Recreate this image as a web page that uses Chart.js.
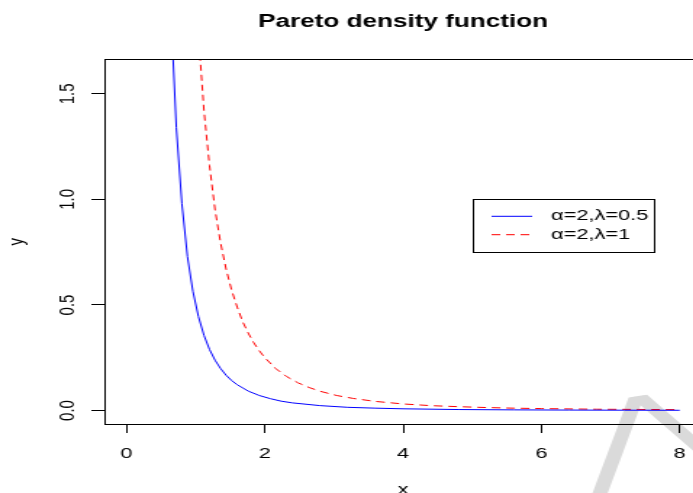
<!DOCTYPE html>
<html>
<head>
<meta charset="utf-8">
<title>Pareto density function</title>
<script src="https://cdn.jsdelivr.net/npm/chart.js@4.4.1/dist/chart.umd.min.js"></script>
<style>
  html, body { margin: 0; padding: 0; background: #fff; overflow: hidden; }
  /* the plot is drawn narrow and widened, like the exported png it comes from */
  #wrap { width: 490px; height: 510px; transform: scaleX(1.45); transform-origin: 0 0; }
</style>
</head>
<body>
<div id="wrap"><canvas id="chart" width="490" height="510"></canvas></div>
<script>
var seriesLabels = ['\u03B1=2,\u03BB=0.5', '\u03B1=2,\u03BB=1'];

// alpha = 2, lambda = 0.5
var blueX = [0.64, 0.72, 0.80, 0.88, 0.96, 1.04, 1.12, 1.20, 1.28, 1.36, 1.44, 1.52, 1.60, 1.76, 1.92,
  2.08, 2.24, 2.40, 2.80, 3.20, 3.60, 4.00, 4.80, 5.60, 6.40, 7.20, 8.00];
var blueY = [1.90, 1.34, 0.98, 0.73, 0.565, 0.445, 0.356, 0.289, 0.238, 0.199, 0.167, 0.142, 0.122, 0.092, 0.071,
  0.056, 0.044, 0.036, 0.023, 0.015, 0.011, 0.008, 0.0045, 0.003, 0.002, 0.0013, 0.001];

// alpha = 2, lambda = 1
var redX = [1.04, 1.12, 1.20, 1.28, 1.36, 1.44, 1.52, 1.60, 1.68, 1.76, 1.84, 1.92, 2.00, 2.16, 2.32,
  2.48, 2.64, 2.80, 3.04, 3.28, 3.60, 4.00, 4.40, 4.80, 5.20, 5.60, 6.00, 6.80, 7.40, 8.00];
var redY = [1.78, 1.42, 1.16, 0.95, 0.795, 0.67, 0.57, 0.49, 0.42, 0.367, 0.321, 0.283, 0.25, 0.198, 0.16,
  0.131, 0.109, 0.091, 0.071, 0.057, 0.043, 0.031, 0.023, 0.018, 0.014, 0.011, 0.009, 0.006, 0.005, 0.004];

var xTicks = [0, 2, 4, 6, 8];
var xTickLabels = ['0', '2', '4', '6', '8'];
var yTicks = [0, 0.5, 1, 1.5];
var yTickLabels = ['0.0', '0.5', '1.0', '1.5'];

var LEGEND_AT = [5, 1.0]; // top-left corner of the legend box, in data units
var FONT = '"Liberation Sans", Arial, Helvetica, sans-serif';

function toPoints(xs, ys) {
  return xs.map(function (x, i) { return { x: x, y: ys[i] }; });
}

// faint stamp behind the plot
var watermark = {
  id: 'watermark',
  beforeDraw: function (chart) {
    var ctx = chart.ctx;
    var size = 300;
    ctx.save();
    ctx.translate(440, 396);
    ctx.rotate(-12 * Math.PI / 180);
    ctx.scale(1.34, 1);
    ctx.font = '100 ' + size + 'px Roboto, sans-serif';
    ctx.fillStyle = '#dadada';
    ctx.textAlign = 'center';
    ctx.textBaseline = 'alphabetic';
    ctx.fillText('A', 0, size * 0.711);
    ctx.restore();
  }
};

// full box around the plotting region
var plotBox = {
  id: 'plotBox',
  afterDatasetsDraw: function (chart) {
    var a = chart.chartArea;
    var ctx = chart.ctx;
    ctx.save();
    ctx.strokeStyle = '#000';
    ctx.lineWidth = 1;
    ctx.strokeRect(Math.round(a.left) + 0.5, Math.round(a.top) + 0.5,
      Math.round(a.right - a.left), Math.round(a.bottom - a.top));
    ctx.restore();
  }
};

// boxed legend placed at a data position
var boxLegend = {
  id: 'boxLegend',
  afterDraw: function (chart) {
    var ctx = chart.ctx;
    var x0 = Math.round(chart.scales.x.getPixelForValue(LEGEND_AT[0]));
    var y0 = Math.round(chart.scales.y.getPixelForValue(LEGEND_AT[1]));
    var sets = chart.data.datasets;
    ctx.save();
    ctx.font = '15px ' + FONT;
    var textW = Math.max.apply(null, sets.map(function (d) { return ctx.measureText(d.label).width; }));
    var w = Math.round(54 + textW + 4);
    var h = 53;
    ctx.fillStyle = '#fff';
    ctx.fillRect(x0, y0, w, h);
    ctx.strokeStyle = '#000';
    ctx.lineWidth = 1;
    ctx.strokeRect(x0 + 0.5, y0 + 0.5, w, h);
    sets.forEach(function (d, i) {
      var yy = y0 + 17.3 + i * 18.4;
      ctx.strokeStyle = d.borderColor;
      ctx.lineWidth = d.borderWidth;
      ctx.setLineDash(d.borderDash || []);
      ctx.beginPath();
      ctx.moveTo(x0 + 13, yy);
      ctx.lineTo(x0 + 41, yy);
      ctx.stroke();
      ctx.setLineDash([]);
      ctx.fillStyle = '#000';
      ctx.textAlign = 'left';
      ctx.textBaseline = 'middle';
      ctx.fillText(d.label, x0 + 54, yy);
    });
    ctx.restore();
  }
};

var tickGrid = {
  drawOnChartArea: false,
  drawTicks: true,
  tickLength: 9,
  tickColor: '#000',
  lineWidth: 1
};

new Chart(document.getElementById('chart'), {
  type: 'line',
  data: {
    datasets: [{
      label: seriesLabels[0],
      data: toPoints(blueX, blueY),
      borderColor: '#0000ff',
      borderWidth: 1,
      pointRadius: 0,
      tension: 0,
      fill: false
    }, {
      label: seriesLabels[1],
      data: toPoints(redX, redY),
      borderColor: '#ff0000',
      borderWidth: 1,
      borderDash: [6, 4],
      pointRadius: 0,
      tension: 0,
      fill: false
    }]
  },
  options: {
    responsive: false,
    animation: false,
    devicePixelRatio: 1,
    layout: { padding: { left: 0, right: 6, top: 0, bottom: 0 } },
    plugins: {
      legend: { display: false },
      tooltip: { enabled: false },
      title: {
        display: true,
        text: 'Pareto density function',
        fullSize: false,
        color: '#000',
        font: { family: FONT, size: 18, weight: 'bold' },
        padding: { top: 11, bottom: 26.7 }
      }
    },
    scales: {
      x: {
        type: 'linear',
        min: -0.32,
        max: 8.32,
        afterBuildTicks: function (s) { s.ticks = xTicks.map(function (v) { return { value: v }; }); },
        afterFit: function (s) { s.height = 86; },
        grid: tickGrid,
        border: { display: false },
        ticks: {
          autoSkip: false,
          maxRotation: 0,
          padding: 12,
          color: '#000',
          font: { family: FONT, size: 15 },
          callback: function (v, i) { return xTickLabels[i]; }
        },
        title: {
          display: true,
          text: 'x',
          color: '#000',
          font: { family: FONT, size: 15 },
          padding: { top: 0, bottom: 11 }
        }
      },
      y: {
        type: 'linear',
        min: -0.064,
        max: 1.664,
        afterBuildTicks: function (s) { s.ticks = yTicks.map(function (v) { return { value: v }; }); },
        afterFit: function (s) { s.width = 72; },
        grid: tickGrid,
        border: { display: false },
        ticks: {
          autoSkip: false,
          minRotation: 90,
          maxRotation: 90,
          crossAlign: 'center',
          padding: 5.4,
          color: '#000',
          font: { family: FONT, size: 15 },
          callback: function (v, i) { return yTickLabels[i]; }
        },
        title: {
          display: true,
          text: 'y',
          color: '#000',
          font: { family: FONT, size: 15 },
          padding: { top: 3, bottom: 0 }
        }
      }
    }
  },
  plugins: [watermark, plotBox, boxLegend]
});
</script>
</body>
</html>
